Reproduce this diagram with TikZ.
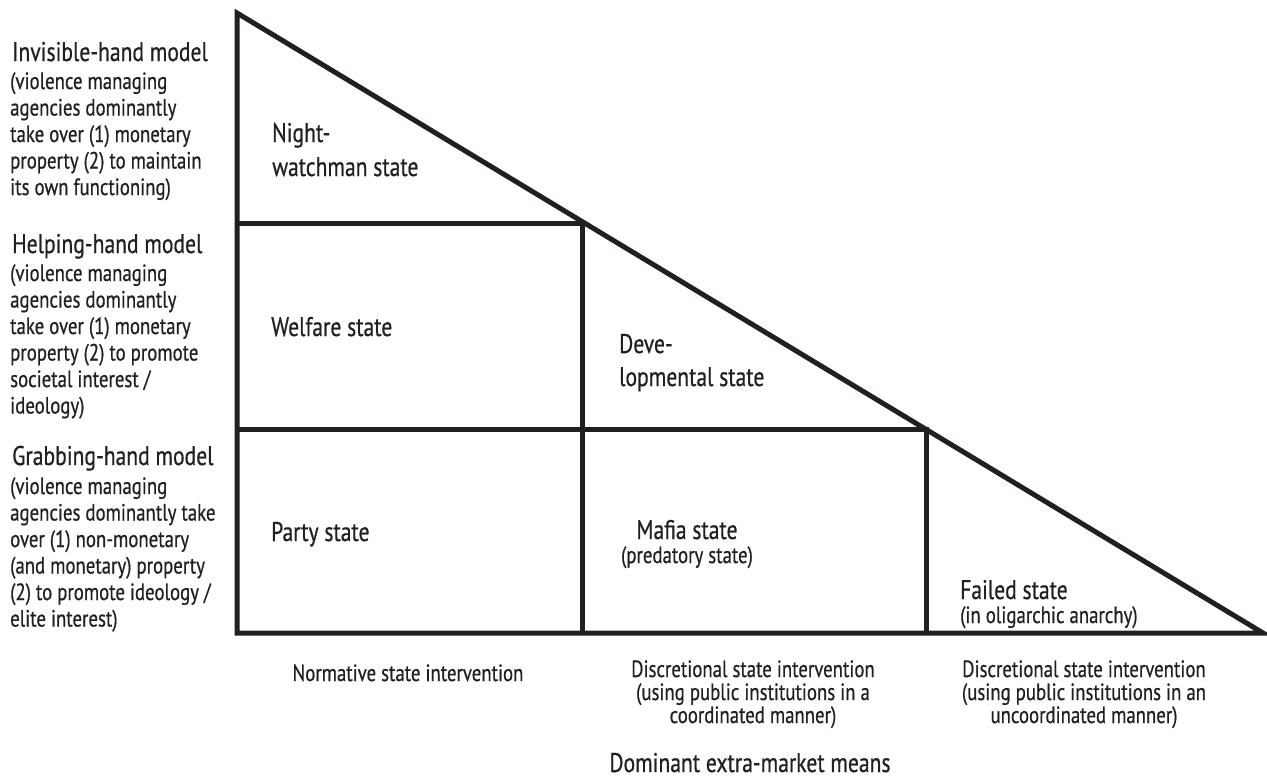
\documentclass[tikz,border=0pt]{standalone}
\usepackage{fontspec}
\setmainfont[FakeStretch=0.8,FakeBold=0.6]{PT Sans}
\definecolor{ink}{HTML}{231F20}
\tikzset{
  big/.style={font=\fontsize{27}{32}\selectfont, inner sep=0pt, text=ink},
  small/.style={font=\fontsize{23.5}{26}\selectfont, inner sep=0pt, text=ink},
  frame/.style={draw=ink, line width=5pt, line join=miter}
}
\begin{document}
\begin{tikzpicture}[x=1pt,y=-1pt]
\useasboundingbox (0,0) rectangle (1267,782);
% triangle
\coordinate (A) at (237,13);
\coordinate (B) at (237,633);
\coordinate (C) at (1263,633);
\coordinate (H1) at (582,223);
\coordinate (H2) at (926,429);
\coordinate (L1) at (237,223);
\coordinate (L2) at (237,429);
\coordinate (V1) at (582,633);
\coordinate (V2) at (926,633);
\draw[frame] (A) -- (B) -- (C) -- cycle;
\draw[frame] (L1) -- (H1) -- (V1);
\draw[frame] (L2) -- (H2) -- (V2);

% left column, block 1
\node[big, anchor=base west] (t1) at (12,61) {Invisible-hand model};
\node[small, anchor=base west] (t1a) at (10,89) {(violence managing};
\node[small, anchor=base west] (t1b) at (10,115.5) {agencies dominantly};
\node[small, anchor=base west] (t1c) at (10,142) {take over (1) monetary};
\node[small, anchor=base west] (t1d) at (10,168.5) {property (2) to maintain};
\node[small, anchor=base west] (t1e) at (10,195) {its own functioning)};
% block 2
\node[big, anchor=base west] (t2) at (12,253) {Helping-hand model};
\node[small, anchor=base west] (t2a) at (10,281) {(violence managing};
\node[small, anchor=base west] (t2b) at (10,307.5) {agencies dominantly};
\node[small, anchor=base west] (t2c) at (10,334) {take over (1) monetary};
\node[small, anchor=base west] (t2d) at (10,360.5) {property (2) to promote};
\node[small, anchor=base west] (t2e) at (10,387) {societal interest /};
\node[small, anchor=base west] (t2f) at (10,413.5) {ideology)};
% block 3
\node[big, anchor=base west] (t3) at (12,465) {Grabbing-hand model};
\node[small, anchor=base west] (t3a) at (10,494) {(violence managing};
\node[small, anchor=base west] (t3b) at (10,520.5) {agencies dominantly take};
\node[small, anchor=base west] (t3c) at (10,547) {over (1) non-monetary};
\node[small, anchor=base west] (t3d) at (10,573.5) {(and monetary) property};
\node[small, anchor=base west] (t3e) at (10,600) {(2) to promote ideology /};
\node[small, anchor=base west] (t3f) at (10,626.5) {elite interest)};

% cells
\node[big, anchor=base west] (n1) at (272,142) {Night-};
\node[big, anchor=base west] (n2) at (272,176) {watchman state};
\node[big, anchor=base west] (w) at (271,336) {Welfare state};
\node[big, anchor=base west] (p) at (271,541) {Party state};
\node[big, anchor=base west] (d1) at (619,353) {Deve-};
\node[big, anchor=base west] (d2) at (619,386) {lopmental state};
\node[big, anchor=base] (m1) at (687,539) {Mafia state};
\node[small, anchor=base] (m2) at (687,563) {(predatory state)};
\node[big, anchor=base west] (f1) at (960,599) {Failed state};
\node[small, anchor=base west] (f2) at (960,623) {(in oligarchic anarchy)};

% bottom labels
\node[small, anchor=base] (b1) at (408,681) {Normative state intervention};
\node[small, anchor=base] (b2a) at (753,677) {Discretional state intervention};
\node[small, anchor=base] (b2b) at (753,700) {(using public institutions in a};
\node[small, anchor=base] (b2c) at (753,723) {coordinated manner)};
\node[small, anchor=base] (b3a) at (1084,677) {Discretional state intervention};
\node[small, anchor=base] (b3b) at (1084,700) {(using public institutions in an};
\node[small, anchor=base] (b3c) at (1084,723) {uncoordinated manner)};
\node[big, anchor=base] (dom) at (750,772) {Dominant extra-market means};
\end{tikzpicture}
\end{document}
